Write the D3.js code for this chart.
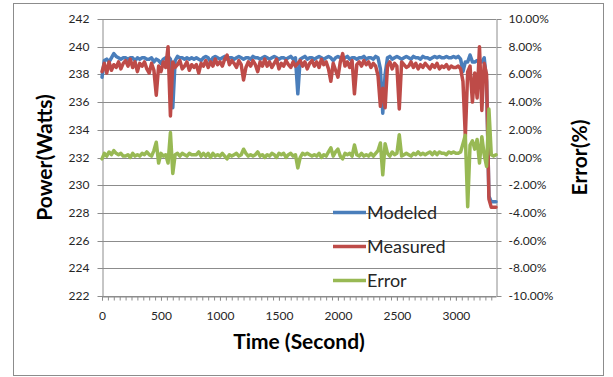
<!DOCTYPE html>
<html>
<head>
<meta charset="utf-8">
<script src="https://cdn.jsdelivr.net/npm/d3@7"></script>
<style>
  body { margin: 0; background: #fff; }
  svg { display: block; }
  text { font-family: Lato, "Open Sans", sans-serif; }
</style>
</head>
<body>
<svg id="chart" width="613" height="377"></svg>
<script>
// Samples are taken every 20 seconds, starting at t = 0
const sampleStep = 20;

// Modeled power (W)
const modeled = [
  237.8, 239.0, 239.1, 238.9, 239.2, 239.5, 239.3, 239.2, 239.1, 239.2,
  239.2, 239.1, 239.2, 239.2, 239.0, 239.2, 239.1, 239.2, 239.2, 239.1,
  239.1, 239.2, 238.9, 239.1, 239.0, 238.8, 239.1, 239.2, 239.3, 239.1,
  235.6, 239.0, 239.3, 239.2, 239.2, 239.1, 239.2, 239.1, 239.2, 239.1,
  239.2, 239.1, 239.0, 239.2, 239.3, 239.2, 238.9, 239.2, 239.3, 239.2,
  239.1, 239.2, 239.3, 239.1, 239.2, 239.2, 239.1, 239.2, 239.3, 239.2,
  239.1, 239.2, 239.2, 239.1, 239.3, 239.2, 239.2, 239.1, 239.2, 239.3,
  239.2, 239.1, 239.2, 239.3, 239.2, 239.1, 239.2, 239.2, 239.1, 239.2,
  239.3, 239.1, 239.2, 236.6, 239.1, 239.2, 239.3, 239.1, 239.2, 239.2,
  239.1, 239.2, 239.3, 239.2, 239.1, 239.2, 239.3, 239.2, 239.0, 239.2,
  239.3, 239.2, 239.1, 239.2, 239.3, 239.1, 239.2, 239.2, 239.1, 239.2,
  239.2, 239.3, 239.1, 239.2, 239.2, 239.1, 239.3, 239.2, 238.4, 235.2,
  238.0, 239.2, 239.3, 239.1, 239.2, 239.3, 239.2, 239.1, 239.2, 239.3,
  239.2, 239.1, 239.3, 239.2, 239.2, 239.1, 239.3, 239.2, 239.2, 239.1,
  239.2, 239.3, 239.2, 239.3, 239.2, 239.2, 239.3, 239.2, 239.2, 239.3,
  239.2, 239.3, 239.1, 238.2, 238.9, 238.9, 239.4, 238.9, 238.9, 239.0,
  238.9, 238.9, 239.2, 237.5, 229.2, 228.8, 228.8, 228.8
];

// Measured power (W)
const measured = [
  238.2, 238.8, 238.1, 238.9, 238.3, 238.7, 238.5, 238.9, 238.4, 238.8,
  239.0, 238.6, 239.1, 238.5, 238.9, 238.2, 238.8, 238.6, 238.9, 238.4,
  238.1, 238.8, 238.3, 236.5, 238.6, 238.2, 238.9, 238.5, 240.0, 235.0,
  238.9, 238.5, 238.7, 239.0, 238.4, 238.6, 238.9, 238.3, 238.7, 238.5,
  238.7, 238.1, 238.8, 238.6, 239.0, 238.5, 238.9, 238.6, 239.1, 238.7,
  238.9, 238.6, 239.1, 239.4, 238.7, 239.0, 238.8, 238.5, 239.0, 238.7,
  237.6, 238.5, 238.9, 238.6, 239.0, 238.7, 238.2, 238.9, 238.6, 239.1,
  238.6, 238.9, 238.5, 238.8, 239.1, 238.4, 238.8, 238.6, 239.0, 238.7,
  238.5, 238.9, 238.6, 238.8, 239.0, 238.6, 238.9, 238.4, 238.8, 239.0,
  238.6, 238.9, 238.5, 239.1, 238.7, 238.9, 238.4, 237.5, 238.8, 238.3,
  237.8, 238.9, 239.5, 238.6, 238.9, 238.5, 239.0, 236.6, 238.7, 238.9,
  238.6, 239.0, 238.7, 238.9, 238.5, 238.8, 238.6, 237.9, 235.7, 237.0,
  235.6, 238.6, 238.9, 238.4, 238.8, 238.6, 235.5, 238.9, 238.7, 238.5,
  238.6, 238.9, 238.5, 238.8, 238.4, 238.7, 238.5, 238.8, 238.6, 238.4,
  238.7, 238.5, 238.8, 238.4, 238.6, 238.5, 238.7, 238.4, 238.6, 238.5,
  238.5, 238.6, 238.4, 237.5, 233.5, 238.2, 238.6, 236.0, 238.1, 236.3,
  240.0, 235.4, 238.8, 238.0, 229.0, 228.4, 228.4, 228.4
];

// Model error (%)
const errorPct = [
  -0.1, 0.3, 0.1, 0.4, 0.2, 0.5, 0.3, 0.2, 0.3, 0.1,
  0.1, 0.2, 0.0, 0.3, 0.1, 0.2, 0.1, 0.3, 0.2, 0.4,
  0.2, 0.1, 0.5, 1.1, -0.4, 0.3, 0.1, 0.2, -0.4, 1.8,
  -1.15, 0.2, 0.3, 0.1, 0.3, 0.2, 0.1, 0.3, 0.2, 0.2,
  0.2, 0.4, 0.1, 0.3, 0.1, 0.3, 0.0, 0.3, 0.1, 0.2,
  0.1, 0.3, 0.1, -0.1, 0.2, 0.1, 0.2, 0.3, 0.1, 0.2,
  0.6, 0.3, 0.1, 0.2, 0.1, 0.2, 0.4, 0.1, 0.2, 0.0,
  0.2, 0.1, 0.3, 0.2, 0.0, 0.3, 0.2, 0.3, 0.0, 0.2,
  0.3, 0.1, 0.2, -0.75, 0.0, 0.3, 0.2, 0.3, 0.2, 0.1,
  0.2, 0.1, 0.3, 0.0, 0.2, 0.1, 0.4, 0.7, 0.1, 0.4,
  0.6, 0.1, -0.1, 0.3, 0.2, 0.3, 0.1, 0.9, 0.2, 0.1,
  0.3, 0.1, 0.2, 0.1, 0.3, 0.1, 0.3, 0.5, 1.05, -1.25,
  1.0, 0.3, 0.1, 0.4, 0.2, 0.3, 1.65, 0.1, 0.2, 0.3,
  0.2, 0.1, 0.3, 0.2, 0.4, 0.2, 0.3, 0.2, 0.3, 0.4,
  0.2, 0.4, 0.2, 0.4, 0.3, 0.3, 0.2, 0.4, 0.3, 0.4,
  0.3, 0.3, 0.4, 1.0, 1.6, -3.55, 0.9, 1.2, 0.6, 1.3,
  -0.4, 1.5, 0.2, -0.65, 3.5, 0.2, 0.1, 0.2
];

const powerTicks = [222, 224, 226, 228, 230, 232, 234, 236, 238, 240, 242];
const errorTicks = [-10, -8, -6, -4, -2, 0, 2, 4, 6, 8, 10];
const timeTicks = [0, 500, 1000, 1500, 2000, 2500, 3000];
const seriesNames = ["Modeled", "Measured", "Error"];
const seriesColors = ["#4a7ebb", "#be4b48", "#98b954"];

const svg = d3.select("#chart");
const plot = { left: 102, right: 496, top: 19, bottom: 296 };
const timeMax = 3340;

const x = d3.scaleLinear().domain([0, timeMax]).range([plot.left, plot.right]);
const yPower = d3.scaleLinear().domain([222, 242]).range([plot.bottom, plot.top]);
const yError = d3.scaleLinear().domain([-10, 10]).range([plot.bottom, plot.top]);

// outer frame
svg.append("rect")
  .attr("x", 13.5).attr("y", 3.5).attr("width", 590).attr("height", 372)
  .attr("fill", "#fff").attr("stroke", "#8c8c8c").attr("stroke-width", 1);

// horizontal gridlines
svg.append("g").selectAll("line").data(powerTicks).join("line")
  .attr("x1", plot.left).attr("x2", plot.right)
  .attr("y1", d => Math.round(yPower(d)) + 0.5).attr("y2", d => Math.round(yPower(d)) + 0.5)
  .attr("stroke", "#8c8c8c").attr("stroke-width", 1);

const axisGrey = "#8c8c8c";
const labelColor = "#262626";

function styleAxis(g) {
  g.select(".domain").attr("stroke", axisGrey);
  g.selectAll(".tick line").attr("stroke", axisGrey);
  g.selectAll(".tick text").attr("fill", labelColor).style("font-size", "12px");
}

// left power axis
svg.append("g")
  .attr("transform", `translate(${plot.left + 0.5},0)`)
  .call(d3.axisLeft(yPower).tickValues(powerTicks).tickSize(5).tickSizeOuter(0).tickPadding(8))
  .call(styleAxis)
  .selectAll(".tick").attr("transform", d => `translate(0,${Math.round(yPower(d)) + 0.5})`);

// right error axis
svg.append("g")
  .attr("transform", `translate(${plot.right + 0.5},0)`)
  .call(d3.axisRight(yError).tickValues(errorTicks).tickSize(5).tickSizeOuter(0).tickPadding(7)
    .tickFormat(d => d.toFixed(2) + "%"))
  .call(styleAxis)
  .selectAll(".tick").attr("transform", d => `translate(0,${Math.round(yError(d)) + 0.5})`);

// bottom time axis: minor ticks every 50 s, labels every 500 s
const minorTicks = d3.range(0, timeMax, 50);
svg.append("g")
  .attr("transform", `translate(0,${plot.bottom + 0.5})`)
  .call(d3.axisBottom(x).tickValues(minorTicks).tickSize(4).tickSizeOuter(0).tickFormat(""))
  .call(g => g.select(".domain").remove())
  .call(g => g.selectAll(".tick line").attr("stroke", axisGrey));
svg.append("g")
  .attr("transform", `translate(0,${plot.bottom + 0.5})`)
  .call(d3.axisBottom(x).tickValues(timeTicks).tickSize(4).tickSizeOuter(0).tickPadding(11)
    .tickFormat(d3.format("d")))
  .call(g => g.select(".domain").attr("stroke", axisGrey))
  .call(g => g.selectAll(".tick line").attr("stroke", axisGrey))
  .call(g => g.selectAll(".tick text").attr("fill", labelColor).style("font-size", "12px"));

// series
const powerLine = d3.line().x((d, i) => x(i * sampleStep)).y(d => yPower(d));
const errorLine = d3.line().x((d, i) => x(i * sampleStep)).y(d => yError(d));
const seriesData = [
  { values: modeled, gen: powerLine },
  { values: measured, gen: powerLine },
  { values: errorPct, gen: errorLine }
];
svg.append("g").selectAll("path").data(seriesData).join("path")
  .attr("d", d => d.gen(d.values))
  .attr("fill", "none")
  .attr("stroke", (d, i) => seriesColors[i])
  .attr("stroke-width", 3.5)
  .attr("stroke-linejoin", "round")
  .attr("stroke-linecap", "round");

// legend
const legend = svg.append("g").selectAll("g").data(seriesNames).join("g")
  .attr("transform", (d, i) => `translate(333,${212.5 + i * 34})`);
legend.append("line")
  .attr("x1", 0).attr("x2", 33).attr("y1", 0).attr("y2", 0)
  .attr("stroke", (d, i) => seriesColors[i]).attr("stroke-width", 3.5);
legend.append("text")
  .attr("x", 34).attr("y", 6.5)
  .attr("fill", labelColor)
  .style("font-size", "18px")
  .text(d => d);

// axis titles
svg.append("text")
  .attr("transform", `translate(52,${(plot.top + plot.bottom) / 2}) rotate(-90)`)
  .attr("text-anchor", "middle")
  .style("font-size", "21px").style("font-weight", "bold").attr("fill", "#000")
  .text("Power(Watts)");
svg.append("text")
  .attr("transform", `translate(587,${(plot.top + plot.bottom) / 2}) rotate(-90)`)
  .attr("text-anchor", "middle")
  .style("font-size", "21px").style("font-weight", "bold").attr("fill", "#000")
  .text("Error(%)");
svg.append("text")
  .attr("x", 299).attr("y", 349)
  .attr("text-anchor", "middle")
  .style("font-size", "21px").style("font-weight", "bold").attr("fill", "#000")
  .text("Time (Second)");
</script>
</body>
</html>
